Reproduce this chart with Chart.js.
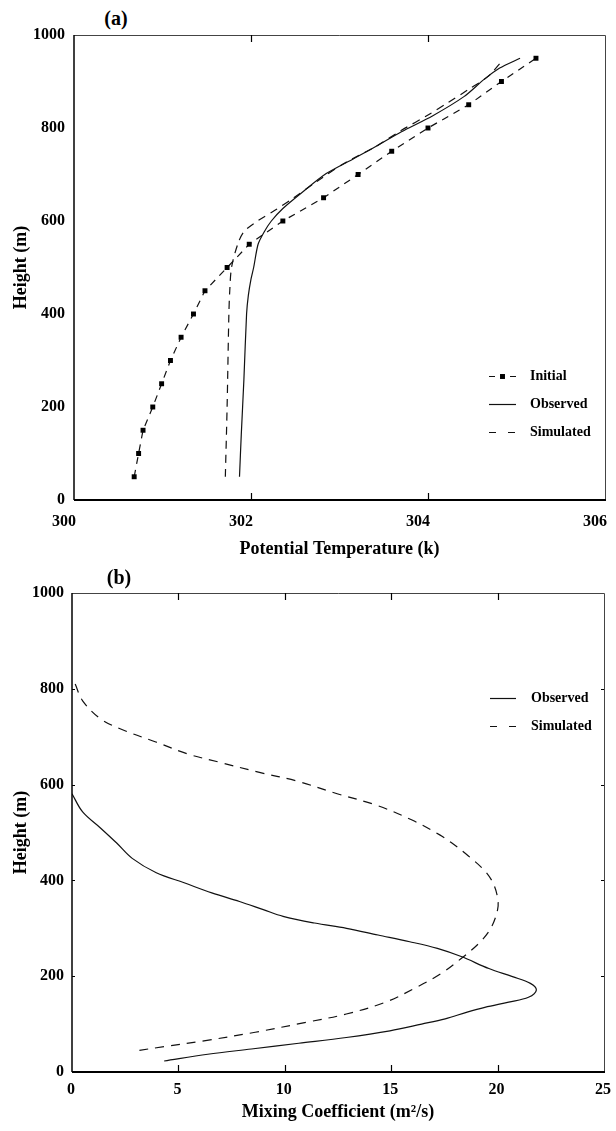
<!DOCTYPE html>
<html><head><meta charset="utf-8">
<script src="https://cdn.jsdelivr.net/npm/chart.js@4.4.1/dist/chart.umd.min.js"></script>
<style>
html,body{margin:0;padding:0;background:#fff;}
#wrap{position:relative;width:616px;height:1131px;overflow:hidden;background:#fff;}
canvas{position:absolute;left:0;}
.plab{position:absolute;width:60px;text-align:center;font:bold 20px 'Liberation Serif',serif;line-height:24px;color:#000;}
</style></head><body>
<div id="wrap">
<div class="plab" style="left:86px;top:6px">(a)</div>
<canvas id="c1" width="616" height="570" style="top:0"></canvas>
<div class="plab" style="left:89px;top:565px">(b)</div>
<canvas id="c2" width="616" height="561" style="top:570px"></canvas>
</div>
<script>
// ---- tick labels ----
const tempTicks = [300, 302, 304, 306];
const mixTicks = [0, 5, 10, 15, 20, 25];
const heightTicks = [0, 200, 400, 600, 800, 1000];

// ---- panel (a): potential temperature ----
const initialHeight = [50, 100, 150, 200, 250, 300, 350, 400, 450, 500, 550, 600, 650, 700, 750, 800, 850, 900, 950];
const initialTemp   = [300.68, 300.73, 300.78, 300.89, 300.99, 301.09, 301.21, 301.35, 301.48, 301.73, 301.98, 302.36, 302.82, 303.21, 303.59, 304.00, 304.46, 304.83, 305.22];

const observedHeightA = [50, 140, 260, 400, 440, 475, 500, 550, 577, 600, 627, 662, 702, 734, 758, 792, 826, 868, 904, 929, 950];
const observedTempA   = [301.87, 301.89, 301.92, 301.95, 301.97, 302.00, 302.03, 302.08, 302.15, 302.23, 302.36, 302.58, 302.85, 303.16, 303.39, 303.70, 304.05, 304.41, 304.63, 304.81, 305.04];

const simulatedHeightA = [50, 200, 400, 450, 500, 550, 577, 602, 623, 648, 687, 726, 758, 795, 829, 855, 882, 911, 945];
const simulatedTempA   = [301.71, 301.73, 301.75, 301.76, 301.78, 301.85, 301.92, 302.09, 302.27, 302.47, 302.76, 303.07, 303.39, 303.70, 304.01, 304.23, 304.45, 304.68, 304.84];

// ---- panel (b): mixing coefficient ----
const observedHeightB = [581, 543, 509, 478, 446, 416, 395, 374, 356, 339, 325, 311, 300, 286, 272, 258, 241, 216, 199, 185, 171, 156, 146, 135, 125, 111, 100, 86, 72, 60, 48, 37, 23];
const observedMixB    = [0.0, 0.5, 1.35, 2.1, 2.83, 3.96, 5.27, 6.57, 7.87, 8.99, 9.92, 11.4, 12.9, 14.38, 15.87, 17.17, 18.29, 19.59, 20.7, 21.54, 21.82, 21.45, 20.52, 19.4, 18.57, 17.54, 16.43, 14.94, 12.89, 10.66, 8.43, 6.38, 4.33];

const simulatedHeightB = [810, 775, 737, 713, 689, 664, 647, 626, 607, 581, 557, 526, 495, 479, 452, 420, 395, 364, 339, 300, 269, 237, 206, 178, 146, 121, 104, 83, 65, 53, 43];
const simulatedMixB    = [0.15, 0.5, 1.35, 2.46, 3.94, 5.43, 6.9, 8.76, 10.6, 12.46, 14.3, 15.98, 17.28, 17.82, 18.6, 19.4, 19.78, 20.0, 20.0, 19.68, 19.13, 18.29, 17.36, 16.24, 14.75, 12.89, 11.03, 8.61, 6.2, 4.33, 2.85];

const pts = (xs, ys) => xs.map((x, i) => ({x: x, y: ys[i]}));

const FAM = "'Liberation Serif','Times New Roman',serif";
const tickFont = {family: FAM, size: 16, weight: 'bold'};
const titleFont = {family: FAM, size: 18, weight: 'bold'};

const framePlugin = {
  id: 'frame',
  afterDraw(chart, args, o) {
    const {ctx, chartArea: a, scales} = chart;
    ctx.save();
    ctx.setLineDash([]);
    ctx.lineWidth = 1;
    ctx.strokeStyle = '#444';
    ctx.beginPath();
    ctx.moveTo(a.left, a.top + 0.5); ctx.lineTo(a.right + 0.5, a.top + 0.5);
    ctx.lineTo(a.right + 0.5, a.bottom);
    ctx.stroke();
    ctx.strokeStyle = '#000';
    ctx.lineWidth = 1.5;
    ctx.beginPath();
    ctx.moveTo(a.left, a.top); ctx.lineTo(a.left, a.bottom);
    ctx.stroke();
    ctx.lineWidth = 2;
    ctx.beginPath();
    ctx.moveTo(a.left, a.bottom); ctx.lineTo(a.right + 1, a.bottom);
    ctx.stroke();
    ctx.lineWidth = 1.2;
    const xs = scales.x;
    xs.ticks.forEach(t => {
      if (t.value === xs.min || t.value === xs.max) return;
      const px = Math.round(xs.getPixelForValue(t.value)) + 0.5;
      ctx.beginPath();
      ctx.moveTo(px, a.bottom); ctx.lineTo(px, a.bottom - o.xLen);
      ctx.moveTo(px, a.top); ctx.lineTo(px, a.top + o.xLen);
      ctx.stroke();
    });
    if (o.yLen > 0) {
      const ys = scales.y;
      ys.ticks.forEach(t => {
        if (t.value === ys.min || t.value === ys.max) return;
        const py = Math.round(ys.getPixelForValue(t.value)) + 0.5;
        ctx.beginPath();
        ctx.moveTo(a.left, py); ctx.lineTo(a.left + o.yLen, py);
        ctx.moveTo(a.right, py); ctx.lineTo(a.right - o.yLen, py);
        ctx.stroke();
      });
    }
    ctx.restore();
  }
};

const legendPlugin = {
  id: 'inlegend',
  afterDraw(chart, args, o) {
    const ctx = chart.ctx;
    ctx.save();
    ctx.font = 'bold 14px ' + FAM;
    ctx.textBaseline = 'middle';
    ctx.textAlign = 'left';
    chart.data.datasets.forEach((ds, i) => {
      const y = Math.round(o.y0 + i * o.dy) + 0.5;
      ctx.strokeStyle = ds.borderColor;
      ctx.lineWidth = ds.borderWidth;
      ctx.setLineDash(ds.legendDash || ds.borderDash || []);
      ctx.beginPath(); ctx.moveTo(o.x0, y); ctx.lineTo(o.x1, y); ctx.stroke();
      ctx.setLineDash([]);
      if (ds.pointRadius > 0) {
        const s = ds.pointRadius * Math.SQRT2;
        ctx.fillStyle = ds.pointBackgroundColor;
        ctx.fillRect((o.x0 + o.x1) / 2 - s / 2, y - s / 2, s, s);
      }
      ctx.fillStyle = '#000';
      ctx.fillText(ds.label, o.tx, y);
    });
    ctx.restore();
  }
};

function makeScales(cfg) {
  return {
    x: {
      type: 'linear', min: cfg.xTicks[0], max: cfg.xTicks[cfg.xTicks.length - 1],
      afterBuildTicks: s => { s.ticks = cfg.xTicks.map(v => ({value: v})); },
      afterFit: s => { s.height = cfg.xHeight; s.paddingLeft = 0; s.paddingRight = 0; },
      grid: {display: false, drawTicks: false, tickLength: 0},
      border: {display: false},
      ticks: {padding: cfg.xPad, font: tickFont, color: '#000', labelOffset: cfg.xLabelOffset, maxRotation: 0, autoSkip: false,
              callback: v => String(v)},
      title: {display: true, text: cfg.xTitle, font: titleFont, color: '#000', padding: {top: 0, bottom: cfg.xTitlePad}}
    },
    y: {
      type: 'linear', min: 0, max: 1000,
      afterBuildTicks: s => { s.ticks = heightTicks.map(v => ({value: v})); },
      afterFit: s => { s.width = cfg.yWidth; s.paddingTop = 0; s.paddingBottom = 0; },
      grid: {display: false, drawTicks: false, tickLength: 0},
      border: {display: false},
      ticks: {padding: cfg.yPad, font: tickFont, color: '#000', autoSkip: false, callback: v => String(v)},
      title: {display: true, text: 'Height (m)', font: titleFont, color: '#000', padding: {top: 11, bottom: 0}}
    }
  };
}

Chart.defaults.font.family = FAM;
Chart.defaults.color = '#000';

new Chart(document.getElementById('c1'), {
  type: 'line',
  data: {
    datasets: [
      {label: 'Initial', data: pts(initialTemp, initialHeight), borderColor: '#111', borderWidth: 1.2,
       borderDash: [7, 6], legendDash: [6, 15], tension: 0, pointStyle: 'rect', pointRadius: 3.5,
       pointBackgroundColor: '#000', pointBorderColor: '#000', pointBorderWidth: 0, fill: false},
      {label: 'Observed', data: pts(observedTempA, observedHeightA), borderColor: '#111', borderWidth: 1.2,
       tension: 0.25, pointRadius: 0, fill: false},
      {label: 'Simulated', data: pts(simulatedTempA, simulatedHeightA), borderColor: '#111', borderWidth: 1.2,
       borderDash: [8, 6], legendDash: [7, 12], tension: 0.3, pointRadius: 0, fill: false}
    ]
  },
  options: {
    responsive: false, animation: false, devicePixelRatio: 1,
    layout: {padding: {top: 35, right: 11, left: 0, bottom: 0}},
    plugins: {
      legend: {display: false}, tooltip: {enabled: false},
      frame: {xLen: 7, yLen: 0},
      inlegend: {x0: 489, x1: 516, tx: 530, y0: 376, dy: 28}
    },
    scales: makeScales({xTicks: tempTicks, xHeight: 70, xPad: 12, xLabelOffset: -10,
      xTitle: 'Potential Temperature (k)', xTitlePad: 10, yWidth: 74, yPad: 9})
  },
  plugins: [framePlugin, legendPlugin]
});

new Chart(document.getElementById('c2'), {
  type: 'line',
  data: {
    datasets: [
      {label: 'Observed', data: pts(observedMixB, observedHeightB), borderColor: '#111', borderWidth: 1.2,
       tension: 0.35, pointRadius: 0, fill: false},
      {label: 'Simulated', data: pts(simulatedMixB, simulatedHeightB), borderColor: '#111', borderWidth: 1.2,
       borderDash: [9, 7], legendDash: [7, 12], tension: 0.35, pointRadius: 0, fill: false}
    ]
  },
  options: {
    responsive: false, animation: false, devicePixelRatio: 1,
    layout: {padding: {top: 23, right: 12, left: 0, bottom: 0}},
    plugins: {
      legend: {display: false}, tooltip: {enabled: false},
      frame: {xLen: 7, yLen: 3},
      inlegend: {x0: 490, x1: 516, tx: 531, y0: 128, dy: 28}
    },
    scales: makeScales({xTicks: mixTicks, xHeight: 59, xPad: 8, xLabelOffset: -1,
      xTitle: 'Mixing Coefficient (m\u00B2/s)', xTitlePad: 8, yWidth: 72, yPad: 8})
  },
  plugins: [framePlugin, legendPlugin]
});
</script>
</body></html>
